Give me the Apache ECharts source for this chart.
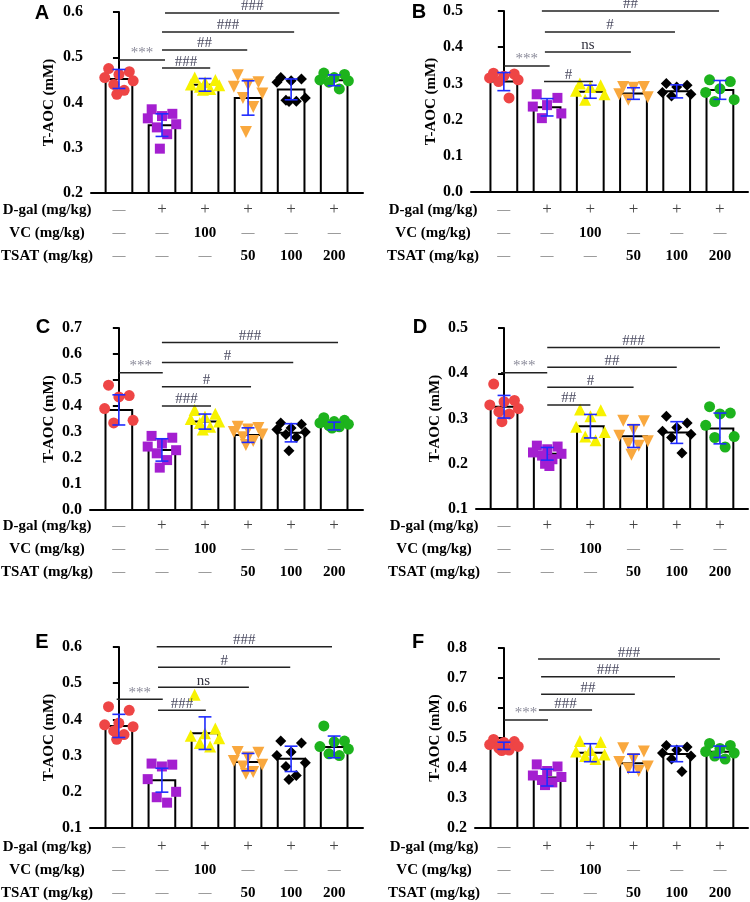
<!DOCTYPE html>
<html><head><meta charset="utf-8">
<script src="https://cdn.jsdelivr.net/npm/echarts@6/dist/echarts.min.js"></script>
<style>html,body{margin:0;padding:0;background:#fff}#c{width:750px;height:902px}</style>
</head><body><div id="c"></div>
<script>
// ---------- DATA ----------
const groups = ['Control', 'D-gal', 'D-gal+VC', 'D-gal+TSAT50', 'D-gal+TSAT100', 'D-gal+TSAT200'];
const rowLabels = ['D-gal (mg/kg)', 'VC (mg/kg)', 'TSAT (mg/kg)'];
const dgalRow = ['—', '+', '+', '+', '+', '+'];
const vcRow   = ['—', '—', '100', '—', '—', '—'];
const tsatRow = ['—', '—', '—', '50', '100', '200'];
const yTitle = 'T-AOC (mM)';

const yTicksA = [0.2, 0.3, 0.4, 0.5, 0.6];
const yTicksB = [0.0, 0.1, 0.2, 0.3, 0.4, 0.5];
const yTicksC = [0.0, 0.1, 0.2, 0.3, 0.4, 0.5, 0.6, 0.7];
const yTicksD = [0.1, 0.2, 0.3, 0.4, 0.5];
const yTicksE = [0.1, 0.2, 0.3, 0.4, 0.5, 0.6];
const yTicksF = [0.2, 0.3, 0.4, 0.5, 0.6, 0.7, 0.8];

const meanA = [0.452, 0.350, 0.439, 0.410, 0.429, 0.449];
const sdA   = [0.021, 0.025, 0.014, 0.038, 0.023, 0.012];
const ptsA = [
  [0.475, 0.468, 0.462, 0.455, 0.448, 0.440, 0.427, 0.418],
  [0.385, 0.375, 0.370, 0.365, 0.352, 0.345, 0.330, 0.298],
  [0.455, 0.450, 0.445, 0.440, 0.438, 0.435, 0.430, 0.428],
  [0.460, 0.445, 0.440, 0.435, 0.420, 0.410, 0.390, 0.335],
  [0.455, 0.452, 0.448, 0.445, 0.410, 0.405, 0.403, 0.402],
  [0.465, 0.462, 0.455, 0.450, 0.448, 0.445, 0.430]
];
const sigA = [[0, 1.07, 0.494, '***'], [1, 2.12, 0.476, '###'], [1, 2.98, 0.516, '##'], [1, 4.07, 0.556, '###'], [1.07, 5.12, 0.598, '###']];

const meanB = [0.305, 0.234, 0.277, 0.272, 0.278, 0.282];
const sdB   = [0.025, 0.024, 0.018, 0.016, 0.018, 0.026];
const ptsB = [
  [0.328, 0.326, 0.320, 0.315, 0.310, 0.305, 0.260],
  [0.270, 0.260, 0.240, 0.236, 0.217, 0.204],
  [0.300, 0.295, 0.290, 0.280, 0.270, 0.255],
  [0.290, 0.290, 0.288, 0.270, 0.262, 0.255],
  [0.300, 0.295, 0.290, 0.275, 0.270, 0.265],
  [0.310, 0.305, 0.285, 0.275, 0.255, 0.250]
];
const sigB = [[0, 1.06, 0.348, '***'], [0.93, 2.06, 0.305, '#'], [0.95, 2.94, 0.387, 'ns'], [0.95, 3.96, 0.442, '#'], [0.88, 4.98, 0.500, '##']];

const meanC = [0.385, 0.231, 0.340, 0.288, 0.297, 0.323];
const sdC   = [0.058, 0.043, 0.029, 0.028, 0.035, 0.015];
const ptsC = [
  [0.480, 0.440, 0.435, 0.390, 0.345, 0.335],
  [0.285, 0.278, 0.256, 0.244, 0.230, 0.218, 0.192, 0.163],
  [0.385, 0.370, 0.360, 0.350, 0.340, 0.335, 0.320, 0.310],
  [0.320, 0.315, 0.310, 0.300, 0.290, 0.280, 0.265, 0.250],
  [0.335, 0.330, 0.315, 0.310, 0.300, 0.290, 0.280, 0.228],
  [0.355, 0.345, 0.340, 0.335, 0.330, 0.325, 0.320, 0.315]
];
const sigC = [[0, 1.02, 0.528, '***'], [1, 2.14, 0.400, '###'], [1, 3.07, 0.474, '#'], [1, 4.05, 0.567, '#'], [1, 5.09, 0.644, '###']];

const meanD = [0.326, 0.222, 0.283, 0.261, 0.269, 0.278];
const sdD   = [0.025, 0.014, 0.026, 0.025, 0.024, 0.034];
const ptsD = [
  [0.376, 0.340, 0.337, 0.330, 0.322, 0.315, 0.310, 0.293],
  [0.240, 0.238, 0.232, 0.225, 0.222, 0.218, 0.210, 0.200, 0.195],
  [0.320, 0.318, 0.305, 0.282, 0.270, 0.260, 0.252],
  [0.295, 0.294, 0.275, 0.262, 0.250, 0.245, 0.240, 0.220],
  [0.305, 0.290, 0.280, 0.272, 0.265, 0.258, 0.224],
  [0.326, 0.312, 0.310, 0.285, 0.260, 0.258, 0.237]
];
const sigD = [[-0.07, 1, 0.401, '***'], [1, 2, 0.330, '##'], [1, 3, 0.369, '#'], [1, 4, 0.413, '##'], [1, 5, 0.457, '###']];

const meanE = [0.382, 0.232, 0.362, 0.282, 0.291, 0.324];
const sdE   = [0.032, 0.033, 0.045, 0.024, 0.035, 0.030];
const ptsE = [
  [0.435, 0.425, 0.390, 0.385, 0.380, 0.368, 0.358, 0.345],
  [0.278, 0.275, 0.270, 0.235, 0.200, 0.185, 0.170],
  [0.468, 0.375, 0.362, 0.355, 0.348, 0.335, 0.325],
  [0.310, 0.308, 0.295, 0.285, 0.275, 0.270, 0.255, 0.250],
  [0.340, 0.335, 0.310, 0.300, 0.280, 0.270, 0.245, 0.234],
  [0.382, 0.340, 0.338, 0.325, 0.318, 0.305, 0.300]
];
const sigE = [[-0.05, 1.02, 0.456, '***'], [0.91, 2.02, 0.425, '###'], [0.91, 3.02, 0.489, 'ns'], [0.91, 3.98, 0.544, '#'], [0.88, 4.95, 0.601, '###']];

const meanF = [0.474, 0.368, 0.451, 0.416, 0.447, 0.454];
const sdF   = [0.012, 0.028, 0.030, 0.030, 0.026, 0.019];
const ptsF = [
  [0.495, 0.488, 0.485, 0.478, 0.472, 0.466, 0.460, 0.458],
  [0.412, 0.405, 0.390, 0.375, 0.370, 0.360, 0.352, 0.343],
  [0.490, 0.487, 0.460, 0.455, 0.445, 0.440, 0.430],
  [0.466, 0.455, 0.430, 0.420, 0.405, 0.398, 0.390],
  [0.475, 0.470, 0.460, 0.450, 0.440, 0.430, 0.388],
  [0.482, 0.475, 0.465, 0.455, 0.450, 0.440, 0.430]
];
const sigF = [[0, 1.02, 0.560, '***'], [0.81, 2.04, 0.593, '###'], [0.86, 3.03, 0.646, '##'], [0.86, 3.96, 0.704, '###'], [0.79, 5, 0.763, '###']];

// ---------- STYLE / LAYOUT ----------
const SERIF = '"Liberation Serif", "Times New Roman", serif';
const SANS = '"Liberation Sans", Arial, sans-serif';
const colors = ['#EE4545', '#A41FD0', '#F7F200', '#F9A83E', '#000000', '#1DB31D'];
const symbols = ['circle', 'rect', 'triangle', 'triangle', 'diamond', 'circle'];
const symRot = [0, 0, 0, 180, 0, 0];
const symSize = [11, 10, 12, 12, 11, 11];
const JITTER = [-0.24, 0.24, 0, -0.33, 0.33, -0.12, 0.12, -0.05, 0.05];

const panels = [
  { letter: 'A', grid: { left: 91, top: 12, width: 272, height: 181 }, xMin: -0.65, xMax: 5.67, ticks: yTicksA, mean: meanA, sd: sdA, pts: ptsA, sig: sigA, letterPos: [42, 13], rowX: 47, nameGap: 34, rowOff: 17 },
  { letter: 'B', grid: { left: 471, top: 11, width: 277, height: 181 }, xMin: -0.76, xMax: 5.65, ticks: yTicksB, mean: meanB, sd: sdB, pts: ptsB, sig: sigB, letterPos: [419, 12], rowX: 433, nameGap: 29, rowOff: 18 },
  { letter: 'C', grid: { left: 90, top: 328, width: 273, height: 182 }, xMin: -0.67, xMax: 5.67, ticks: yTicksC, mean: meanC, sd: sdC, pts: ptsC, sig: sigC, letterPos: [43, 327], rowX: 47, nameGap: 33, rowOff: 16 },
  { letter: 'D', grid: { left: 476, top: 328, width: 272, height: 181 }, xMin: -0.65, xMax: 5.65, ticks: yTicksD, mean: meanD, sd: sdD, pts: ptsD, sig: sigD, letterPos: [420, 327], rowX: 434, nameGap: 33, rowOff: 17 },
  { letter: 'E', grid: { left: 90, top: 647, width: 273, height: 181 }, xMin: -0.67, xMax: 5.67, ticks: yTicksE, mean: meanE, sd: sdE, pts: ptsE, sig: sigE, letterPos: [42, 642], rowX: 47, nameGap: 33, rowOff: 19 },
  { letter: 'F', grid: { left: 475, top: 648, width: 273, height: 180 }, xMin: -0.67, xMax: 5.65, ticks: yTicksF, mean: meanF, sd: sdF, pts: ptsF, sig: sigF, letterPos: [418, 642], rowX: 434, nameGap: 32, rowOff: 19 }
];

function cell(s) {
  if (s === '—') return '{d|—}';
  if (s === '+') return '{p|+}';
  return '{n|' + s + '}';
}

const grids = [], xAxes = [], yAxes = [], series = [], graphics = [];
panels.forEach((p, pi) => {
  const yMin = p.ticks[0], yMax = p.ticks[p.ticks.length - 1];
  const interval = Math.round((p.ticks[1] - p.ticks[0]) * 1000) / 1000;
  grids.push(Object.assign({ containLabel: false }, p.grid));
  xAxes.push({
    type: 'value', gridIndex: pi, min: p.xMin, max: p.xMax,
    axisLine: { show: true, onZero: false, lineStyle: { color: '#000', width: 2 } },
    axisTick: { show: false }, splitLine: { show: false },
    axisLabel: {
      show: true, customValues: [0, 1, 2, 3, 4, 5], margin: p.rowOff - 11.5,
      formatter: v => { const i = Math.round(v); return [dgalRow[i], vcRow[i], tsatRow[i]].map(cell).join('\n'); },
      rich: {
        d: { fontFamily: SERIF, fontSize: 13, color: '#666', lineHeight: 23, fontWeight: 'normal' },
        p: { fontFamily: SERIF, fontSize: 17, color: '#444', lineHeight: 23, fontWeight: 'normal' },
        n: { fontFamily: SERIF, fontSize: 15, color: '#000', lineHeight: 23, fontWeight: 'bold' }
      }
    }
  });
  yAxes.push({
    type: 'value', gridIndex: pi, min: yMin, max: yMax, interval: interval,
    name: yTitle, nameLocation: 'middle', nameGap: p.nameGap,
    nameTextStyle: { fontFamily: SERIF, fontWeight: 'bold', fontSize: 15, color: '#000' },
    axisLine: { show: true, lineStyle: { color: '#000', width: 2 } },
    axisTick: { show: true, length: 6, lineStyle: { color: '#000', width: 2 } },
    splitLine: { show: false },
    axisLabel: { fontFamily: SERIF, fontWeight: 'bold', fontSize: 16, color: '#000', margin: 8, formatter: v => v.toFixed(1) }
  });
  // bars
  series.push({
    type: 'custom', xAxisIndex: pi, yAxisIndex: pi, z: 2,
    data: p.mean.map((m, i) => [i, m]),
    renderItem: (params, api) => {
      const x = api.value(0), v = api.value(1);
      const top = api.coord([x, v]);
      const base = api.coord([x, yMin]);
      const w = api.size([1, 0])[0] * 0.62;
      return { type: 'rect', shape: { x: top[0] - w / 2, y: top[1], width: w, height: base[1] - top[1] },
        style: { fill: '#fff', stroke: '#000', lineWidth: 2 } };
    }
  });
  // points
  p.pts.forEach((arr, gi) => {
    series.push({
      type: 'scatter', name: groups[gi], xAxisIndex: pi, yAxisIndex: pi, z: 3,
      symbol: symbols[gi], symbolRotate: symRot[gi], symbolSize: symSize[gi],
      itemStyle: { color: colors[gi], opacity: 1 },
      data: arr.map((v, k) => [gi + JITTER[k % JITTER.length], v])
    });
  });
  // error bars
  series.push({
    type: 'custom', xAxisIndex: pi, yAxisIndex: pi, z: 4,
    data: p.mean.map((m, i) => [i, m, p.sd[i]]),
    renderItem: (params, api) => {
      const x = api.value(0), m = api.value(1), s = api.value(2);
      const hi = api.coord([x, m + s]), lo = api.coord([x, m - s]);
      const cw = api.size([0.3, 0])[0] / 2;
      const st = { stroke: '#1F2BFF', lineWidth: 1.6 };
      return { type: 'group', children: [
        { type: 'line', shape: { x1: hi[0], y1: hi[1], x2: lo[0], y2: lo[1] }, style: st },
        { type: 'line', shape: { x1: hi[0] - cw, y1: hi[1], x2: hi[0] + cw, y2: hi[1] }, style: st },
        { type: 'line', shape: { x1: lo[0] - cw, y1: lo[1], x2: lo[0] + cw, y2: lo[1] }, style: st }
      ] };
    }
  });
  // significance
  series.push({
    type: 'custom', xAxisIndex: pi, yAxisIndex: pi, z: 5, clip: false,
    data: p.sig.map(s => [s[0], s[1], s[2], s[3]]),
    dimensions: ['x1', 'x2', 'y', { name: 'lab', type: 'ordinal' }],
    renderItem: (params, api) => {
      const s = p.sig[params.dataIndex];
      const a = api.coord([s[0], s[2]]), b = api.coord([s[1], s[2]]);
      const lab = s[3];
      const col = lab === '***' ? '#8a8a99' : (lab === 'ns' ? '#333340' : '#4a4a60');
      return { type: 'group', children: [
        { type: 'line', shape: { x1: a[0], y1: a[1], x2: b[0], y2: b[1] }, style: { stroke: '#222', lineWidth: 1.5 } },
        { type: 'text', style: { text: lab, x: (a[0] + b[0]) / 2, y: a[1] + 1, textAlign: 'center', textVerticalAlign: 'bottom',
          font: '15px ' + SERIF, fill: col } }
      ] };
    }
  });
  // letter
  graphics.push({ type: 'text', x: p.letterPos[0], y: p.letterPos[1],
    style: { text: p.letter, font: 'bold 20px ' + SANS, fill: '#000', textAlign: 'center', textVerticalAlign: 'middle' } });
  // row labels
  const gb = p.grid.top + p.grid.height;
  rowLabels.forEach((t, k) => {
    graphics.push({ type: 'text', x: p.rowX, y: gb + p.rowOff + 23 * k,
      style: { text: t, font: 'bold 15px ' + SERIF, fill: '#000', textAlign: 'center', textVerticalAlign: 'middle' } });
  });
});

const chart = echarts.init(document.getElementById('c'), null, { renderer: 'canvas' });
chart.setOption({
  animation: false,
  backgroundColor: '#fff',
  grid: grids, xAxis: xAxes, yAxis: yAxes, series: series, graphic: graphics
});
</script></body></html>
